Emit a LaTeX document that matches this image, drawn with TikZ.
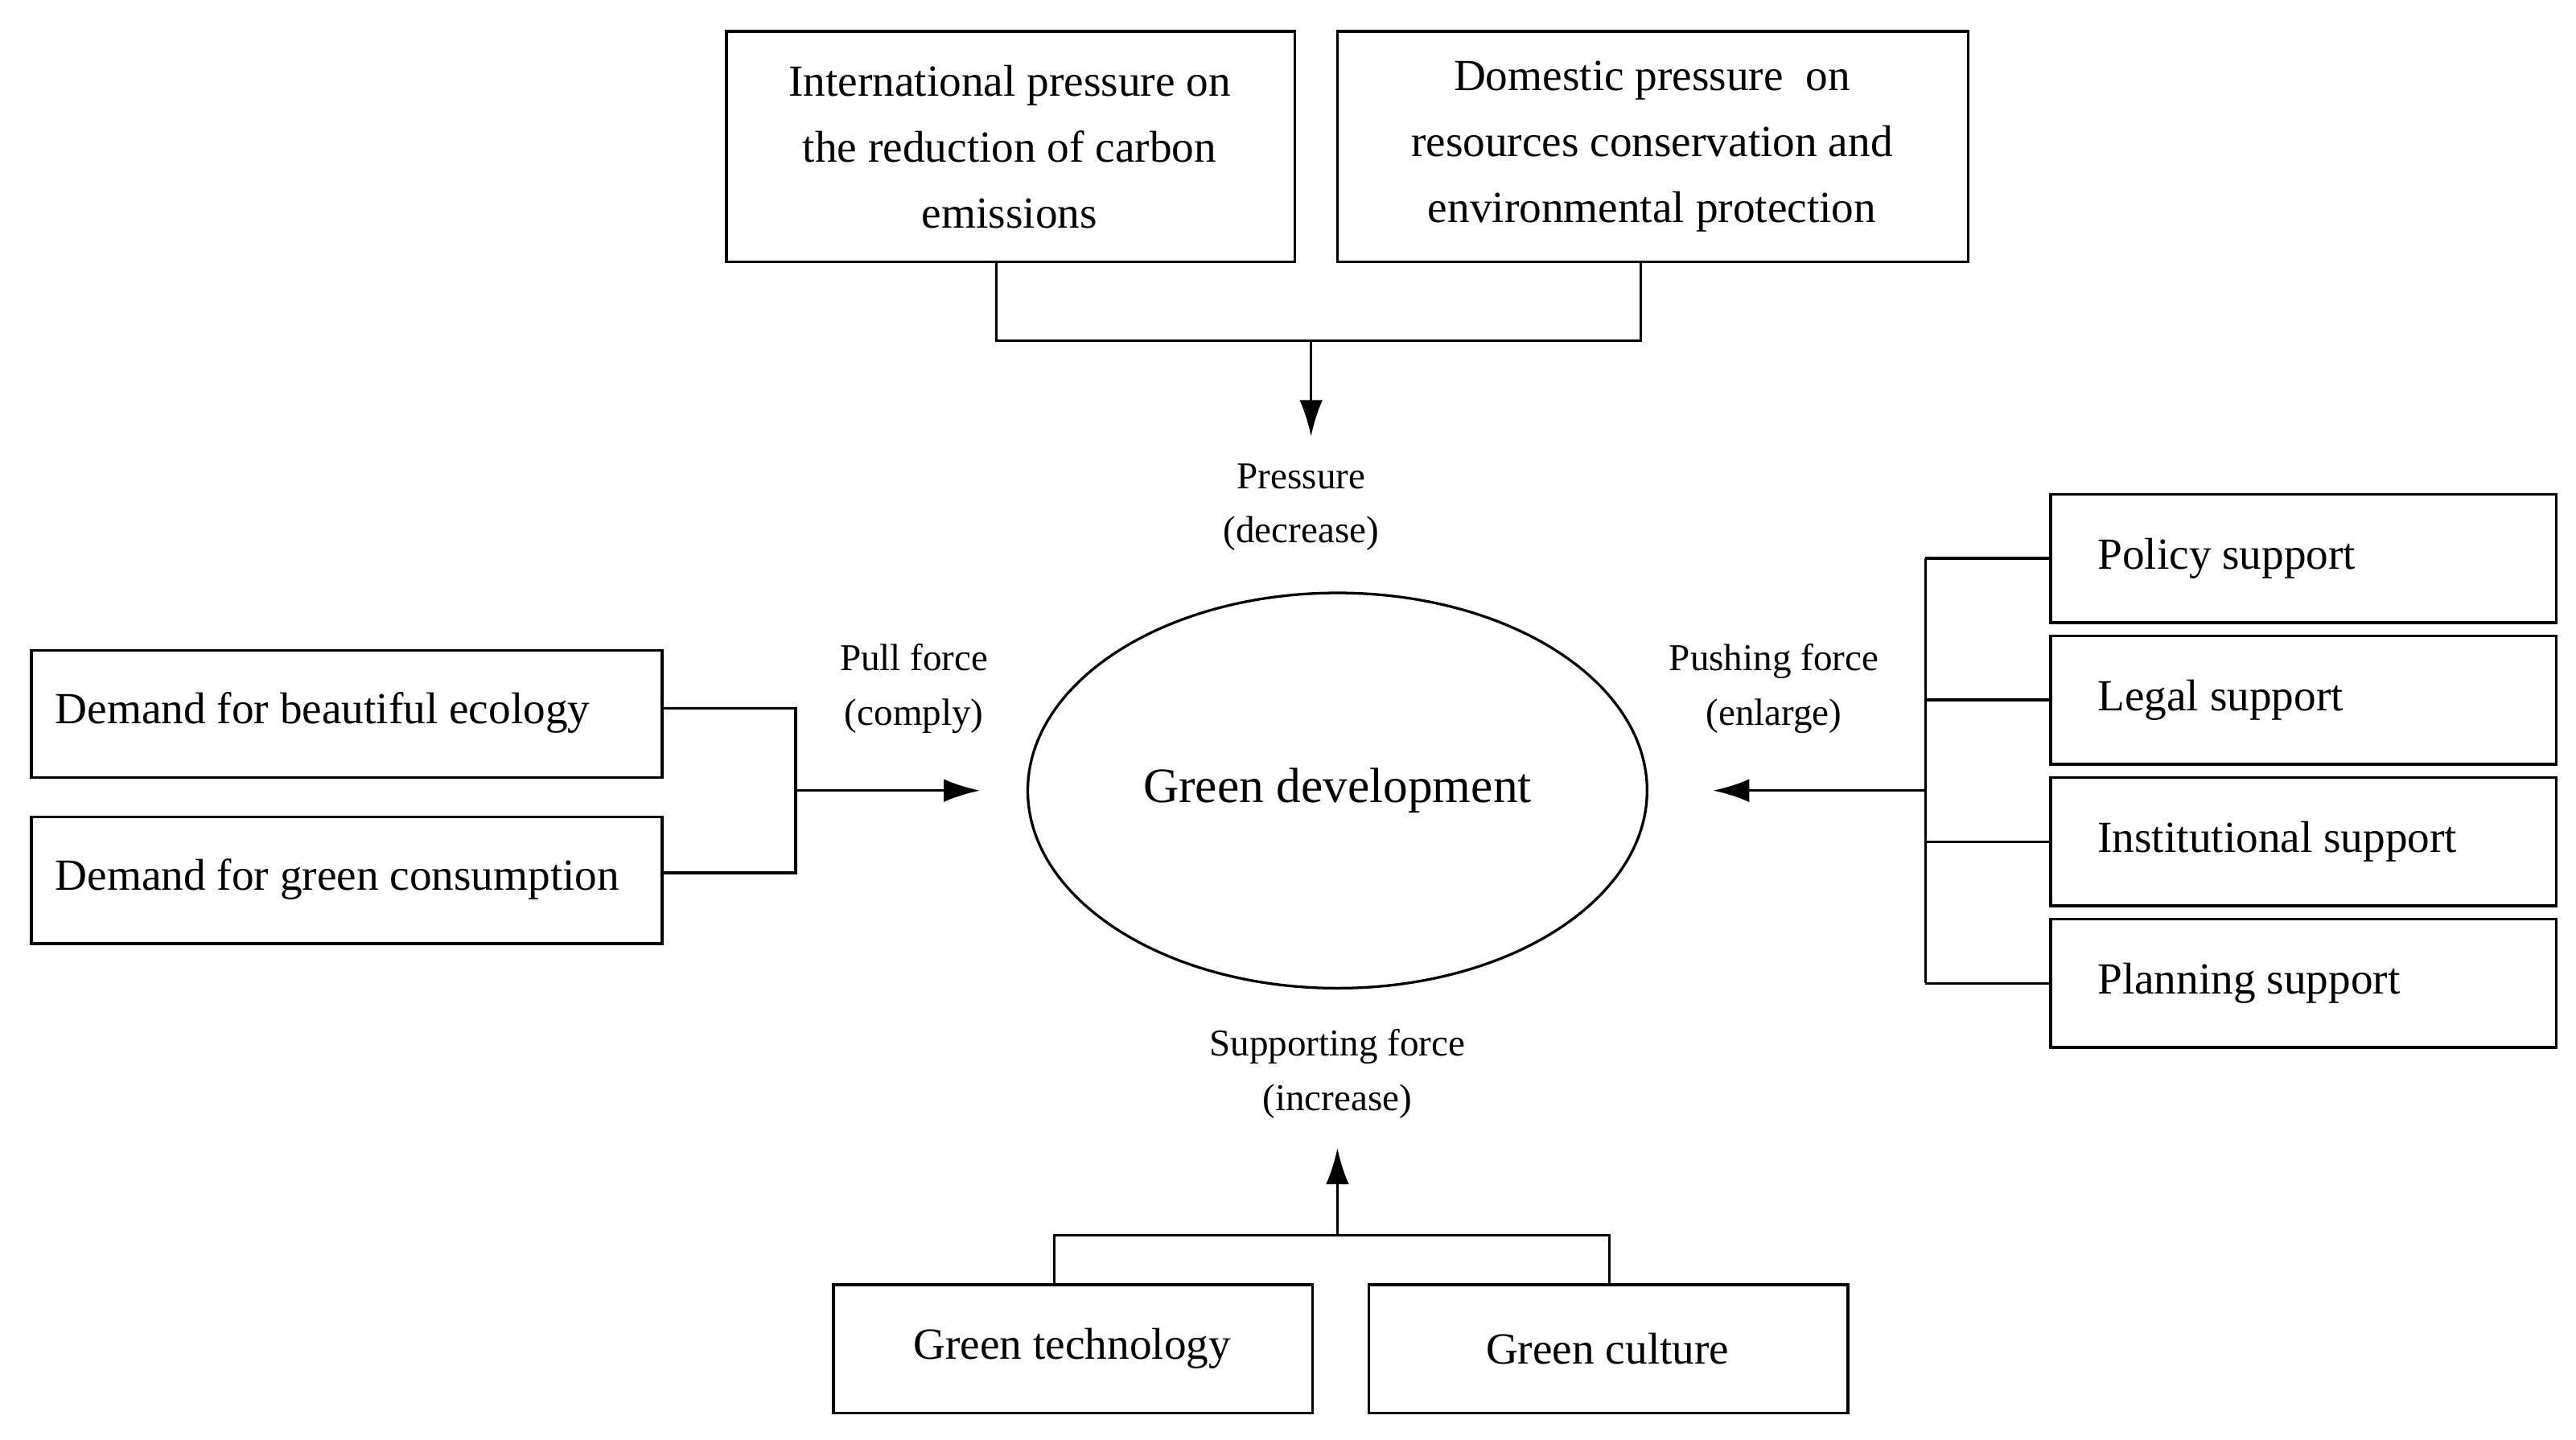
\documentclass[tikz,border=0pt]{standalone}
\usepackage{fontspec}
\setmainfont{Liberation Serif}
\usetikzlibrary{arrows.meta}
\begin{document}
\begin{tikzpicture}[x=1pt,y=-1pt,
 box/.style={draw,line width=1.6pt,inner sep=0pt},
 ln/.style={line width=1.6pt},
 arr/.style={ln,-{Latex[length=22pt,width=14pt]}},
 bt/.style={font=\fontsize{27}{40}\selectfont,align=center},
 lt/.style={font=\fontsize{23}{33}\selectfont,align=center}]
\useasboundingbox (0,0) rectangle (1564,874.3);
% top
\draw[box] (441,19) rectangle (786,159);
\draw[box] (812,19) rectangle (1195,159);
\node[bt] (t1) at (613,89) {International pressure on\\the reduction of carbon\\emissions};
\node[bt] (t2) at (1003,89) {Domestic pressure\ \ on\\resources conservation and\\environmental protection};
\coordinate (ta) at (605,159); \coordinate (tb) at (996,159);
\coordinate (tm) at (796,207); \coordinate (te) at (796,265);
\draw[ln] (ta) |- (tm) -| (tb);
\draw[arr] (tm) -- (te);
\node[lt] (pl) at (790,308) {Pressure\\(decrease)};
% ellipse
\draw[ln] (812,480) ellipse [x radius=188, y radius=120];
\node[font=\fontsize{30}{36}\selectfont] (g) at (812,480) {Green development};
% left
\draw[box] (19,395) rectangle (402,472);
\draw[box] (19,496) rectangle (402,573);
\node[bt,anchor=west] (l1) at (30,433) {Demand for beautiful ecology};
\node[bt,anchor=west] (l2) at (30,534) {Demand for green consumption};
\coordinate (la) at (402,430); \coordinate (lb) at (402,530);
\coordinate (lm) at (483,480); \coordinate (le) at (595,480);
\draw[ln] (la) -| (lm) |- (lb);
\draw[arr] (lm) -- (le);
\node[lt] (pf) at (555,418) {Pull force\\(comply)};
% right
\foreach \y/\t/\n in {300/Policy support/r1,386/Legal support/r2,472/Institutional support/r3,558/Planning support/r4}{
 \draw[box] (1245,\y) rectangle (1552,\y+78);
 \node[bt,anchor=west] (\n) at (1270,\y+39) {\t};
 \draw[ln] (1169,\y+39) -- (1245,\y+39);
}
\draw[ln] (1169,339) -- (1169,597);
\coordinate (rm) at (1169,480); \coordinate (re) at (1040,480);
\draw[arr] (rm) -- (re);
\node[lt] (pu) at (1077,418) {Pushing force\\(enlarge)};
% bottom
\draw[box] (506,780) rectangle (797,858);
\draw[box] (831,780) rectangle (1122,858);
\node[bt] (b1) at (651,819) {Green technology};
\node[bt] (b2) at (976,819) {Green culture};
\coordinate (ba) at (640,780); \coordinate (bb) at (977,780);
\coordinate (bm) at (812,750); \coordinate (be) at (812,697);
\draw[ln] (ba) |- (bm) -| (bb);
\draw[arr] (bm) -- (be);
\node[lt] (sf) at (812,652) {Supporting force\\(increase)};
\end{tikzpicture}
\end{document}
